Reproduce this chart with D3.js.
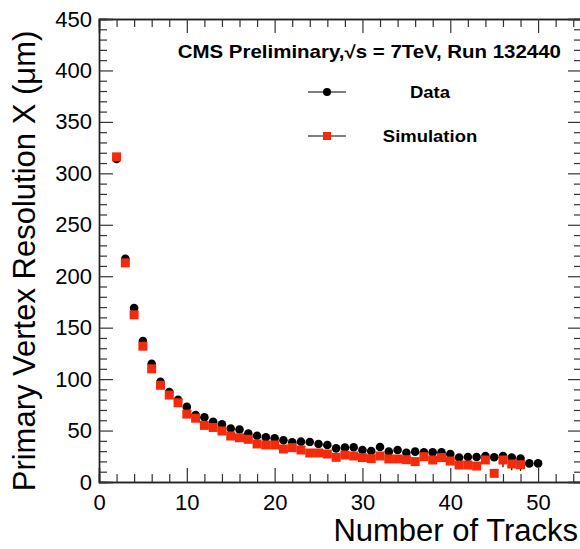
<!DOCTYPE html>
<html>
<head>
<meta charset="utf-8">
<script src="https://cdn.jsdelivr.net/npm/d3@7"></script>
<style>
  body { margin: 0; background: #fff; }
  text { font-family: "Liberation Sans", Arial, sans-serif; }
</style>
</head>
<body>
<div id="chart"></div>
<script>
// number of tracks for each bin
const dataTracks = [2, 3, 4, 5, 6, 7, 8, 9, 10, 11, 12, 13, 14, 15, 16, 17, 18, 19, 20,
    21, 22, 23, 24, 25, 26, 27, 28, 29, 30, 31, 32, 33, 34, 35, 36, 37, 38, 39, 40,
    41, 42, 43, 44, 45, 46, 47, 48, 49, 50];
const dataRes = [314, 217, 169, 137, 115, 97.5, 87.5, 80, 73, 65, 63, 58.5, 56, 52, 51, 47, 45, 43.5, 42.5,
    40.5, 38.6, 39.2, 38.9, 36.9, 36, 32.7, 33.4, 33.7, 31.1, 30.1, 34, 29.5, 31.1, 28.5, 29.5, 28.8, 28.8, 28.8, 27.2,
    23.7, 24.3, 24.3, 25.3, 24, 25.3, 23.7, 22.7, 18.1, 18.1];
const dataErr = [1.5, 1.5, 1, 1, 1, 1, 1, 1, 1, 1, 1, 1, 1, 1, 1, 1, 1, 1, 1,
    1, 1, 1, 1, 1, 1, 1, 1, 1, 1, 1, 1, 1, 1, 1, 1, 1, 1, 1, 1,
    1, 1, 1, 1, 1, 2, 2, 2, 1, 1];

const simTracks = [2, 3, 4, 5, 6, 7, 8, 9, 10, 11, 12, 13, 14, 15, 16, 17, 18, 19, 20,
    21, 22, 23, 24, 25, 26, 27, 28, 29, 30, 31, 32, 33, 34, 35, 36, 37, 38, 39, 40,
    41, 42, 43, 44, 45, 46, 47, 48];
const simRes = [316, 213, 162.5, 132, 110, 94, 84.5, 77, 66, 62, 55, 53, 49.6, 44.7, 43, 41.5, 37, 36, 36,
    32.1, 33.4, 31.1, 28.2, 28.2, 27.2, 24, 26.2, 25.3, 23.7, 22.7, 25.3, 22.4, 22.4, 21.7, 19.8, 24.6, 21.4, 23.7, 20.4,
    16.5, 16.5, 15.5, 21.4, 8.4, 21.4, 17.5, 16.8];
const simErr = [1.5, 1.5, 1, 1, 1, 1, 1, 1, 1, 1, 1, 1, 1, 1, 1, 1, 1, 1, 1,
    1, 1, 1, 1, 1, 1, 1, 1, 1, 1, 1, 1, 1, 1, 1, 1, 1, 1, 1, 1,
    1, 1, 1, 1, 2, 7, 6, 6];

const xMajor = [0, 10, 20, 30, 40, 50];
const yMajor = [0, 50, 100, 150, 200, 250, 300, 350, 400, 450];

const width = 580;
const height = 549;
const margin = {top: 19, left: 99, right: -2, bottom: 67};
const innerW = width - margin.left - margin.right;
const innerH = height - margin.top - margin.bottom;

const svg = d3.select("#chart")
    .append("svg")
    .attr("width", width)
    .attr("height", height)
    .style("overflow", "hidden");

const g = svg.append("g")
    .attr("transform", "translate(" + margin.left + "," + margin.top + ")");

const x = d3.scaleLinear().domain([0, 55]).range([0, innerW]);
const y = d3.scaleLinear().domain([0, 450]).range([innerH, 0]);

const axisColor = "#222";

function styleAxis(sel) {
    sel.select(".domain").attr("stroke", axisColor).attr("stroke-width", 1.4);
    sel.selectAll(".tick line").attr("stroke", "#333").attr("stroke-width", 1.2);
}

// minor ticks (every 2 tracks / every 10 um), no labels
const xMinor = d3.range(0, 56, 2).filter(v => v % 10 !== 0);
const yMinor = d3.range(0, 451, 10).filter(v => v % 50 !== 0);

// bottom
g.append("g").attr("transform", "translate(0," + innerH + ")")
    .call(d3.axisBottom(x).tickValues(xMinor).tickSize(-8).tickFormat(""))
    .call(styleAxis);
const xAx = g.append("g").attr("transform", "translate(0," + innerH + ")")
    .call(d3.axisBottom(x).tickValues(xMajor).tickSize(-14).tickPadding(12).tickFormat(d3.format("d")))
    .call(styleAxis);
xAx.selectAll("text").attr("font-size", 22).attr("fill", "#000")
    .attr("font-family", "Liberation Sans, Arial, sans-serif");

// top
g.append("g")
    .call(d3.axisTop(x).tickValues(xMinor).tickSize(-8).tickFormat(""))
    .call(styleAxis);
g.append("g")
    .call(d3.axisTop(x).tickValues(xMajor).tickSize(-14).tickFormat(""))
    .call(styleAxis);

// left
g.append("g")
    .call(d3.axisLeft(y).tickValues(yMinor).tickSize(-8).tickFormat(""))
    .call(styleAxis);
const yAx = g.append("g")
    .call(d3.axisLeft(y).tickValues(yMajor).tickSize(-14).tickPadding(7).tickFormat(d3.format("d")))
    .call(styleAxis);
yAx.selectAll("text").attr("font-size", 22).attr("fill", "#000")
    .attr("font-family", "Liberation Sans, Arial, sans-serif");

// right
g.append("g").attr("transform", "translate(" + innerW + ",0)")
    .call(d3.axisRight(y).tickValues(yMinor).tickSize(-8).tickFormat(""))
    .call(styleAxis);
g.append("g").attr("transform", "translate(" + innerW + ",0)")
    .call(d3.axisRight(y).tickValues(yMajor).tickSize(-14).tickFormat(""))
    .call(styleAxis);

// series
const dataPts = dataTracks.map((t, i) => ({t: t, v: dataRes[i], e: dataErr[i]}));
const simPts = simTracks.map((t, i) => ({t: t, v: simRes[i], e: simErr[i]}));
const red = "#f42a0c";

g.selectAll(".dataErr").data(dataPts).enter().append("line")
    .attr("x1", d => x(d.t)).attr("x2", d => x(d.t))
    .attr("y1", d => y(d.v - d.e)).attr("y2", d => y(d.v + d.e))
    .attr("stroke", "#000").attr("stroke-width", 1.2);
g.selectAll(".dataPt").data(dataPts).enter().append("circle")
    .attr("cx", d => x(d.t)).attr("cy", d => y(d.v))
    .attr("r", 4.3).attr("fill", "#000");

g.selectAll(".simErr").data(simPts).enter().append("line")
    .attr("x1", d => x(d.t)).attr("x2", d => x(d.t))
    .attr("y1", d => y(d.v - d.e)).attr("y2", d => y(d.v + d.e))
    .attr("stroke", "#000").attr("stroke-width", 1.2);
g.selectAll(".simPt").data(simPts).enter().append("rect")
    .attr("x", d => x(d.t) - 4.5).attr("y", d => y(d.v) - 4.5)
    .attr("width", 9).attr("height", 9).attr("fill", red);

// header
svg.append("text")
    .attr("transform", "translate(561,58) scale(1.17,1)")
    .attr("text-anchor", "end")
    .attr("font-size", 17.5)
    .attr("font-weight", "bold")
    .text("CMS Preliminary,\u221As = 7TeV, Run 132440");

// legend
const legendKeys = ["Data", "Simulation"];
const legendY = [92, 136];
const legend = svg.append("g");
legend.selectAll("line").data(legendKeys).enter().append("line")
    .attr("x1", 308).attr("x2", 346)
    .attr("y1", (d, i) => legendY[i]).attr("y2", (d, i) => legendY[i])
    .attr("stroke", "#000").attr("stroke-width", 1.2);
legend.append("circle").attr("cx", 327).attr("cy", legendY[0]).attr("r", 4).attr("fill", "#000");
legend.append("rect").attr("x", 323).attr("y", legendY[1] - 4).attr("width", 8).attr("height", 8).attr("fill", red);
legend.selectAll("text").data(legendKeys).enter().append("text")
    .attr("transform", (d, i) => "translate(430," + (legendY[i] + 6) + ") scale(1.12,1)")
    .attr("text-anchor", "middle")
    .attr("font-size", 16.5)
    .attr("font-weight", "bold")
    .text(d => d);

// axis titles
svg.append("text")
    .attr("x", 578).attr("y", 541)
    .attr("text-anchor", "end")
    .attr("font-size", 31)
    .text("Number of Tracks");

svg.append("text")
    .attr("transform", "translate(35,261) rotate(-90)")
    .attr("text-anchor", "middle")
    .attr("font-size", 31)
    .text("Primary Vertex Resolution X (\u03BCm)");
</script>
</body>
</html>
